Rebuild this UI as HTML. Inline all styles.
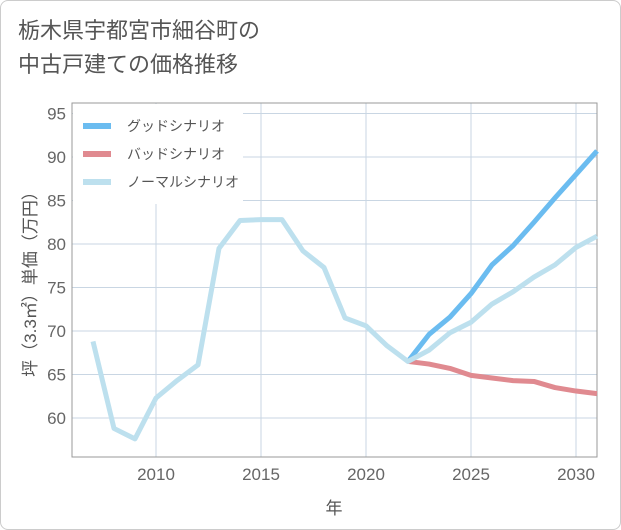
<!DOCTYPE html>
<html><head><meta charset="utf-8"><style>
body{margin:0;background:#fff;font-family:"Liberation Sans","Noto Sans CJK JP",sans-serif;}
#card{position:absolute;left:0;top:0;width:619px;height:528px;border:1px solid #ccc;border-radius:8px;background:#fff;}
#title{position:absolute;left:18px;top:14px;font-size:22px;line-height:34px;color:#555;}
</style></head><body>
<div id="card"></div>
<div id="title">栃木県宇都宮市細谷町の<br>中古戸建ての価格推移</div>
<svg id="chart" width="621" height="530" style="position:absolute;left:0;top:0"></svg>
<script>
const years=[2007,2008,2009,2010,2011,2012,2013,2014,2015,2016,2017,2018,2019,2020,2021,2022,2023,2024,2025,2026,2027,2028,2029,2030,2031];
const normal=[68.8,58.8,57.6,62.3,64.3,66.1,79.5,82.7,82.8,82.8,79.2,77.3,71.5,70.6,68.3,66.5,67.8,69.8,71.0,73.1,74.5,76.2,77.6,79.6,80.9];
const goodYears=[2022,2023,2024,2025,2026,2027,2028,2029,2030,2031];
const good=[66.5,69.6,71.6,74.3,77.6,79.8,82.5,85.3,88.0,90.7];
const bad=[66.5,66.2,65.7,64.9,64.6,64.3,64.2,63.5,63.1,62.8];
const xTicks=[2010,2015,2020,2025,2030];
const yTicks=[60,65,70,75,80,85,90,95];
const L=72,R=597,T=103,B=457;
const x=v=>156+(v-2010)*21;
const y=v=>418+(60-v)*8.7;
const svg=document.getElementById('chart');const NS='http://www.w3.org/2000/svg';
function mk(t,a,p){const e=document.createElementNS(NS,t);for(const k in a)e.setAttribute(k,a[k]);(p||svg).appendChild(e);return e;}
yTicks.forEach(v=>{const l=mk('line',{x1:L,x2:R,y1:y(v),y2:y(v),stroke:'#c9d6e3','stroke-width':1});

const t=mk('text',{x:L-6,y:y(v)+6,'text-anchor':'end','font-size':17,fill:'#666'});t.textContent=v;
});
xTicks.forEach(v=>{const l=mk('line',{x1:x(v),x2:x(v),y1:T,y2:B,stroke:'#c9d6e3','stroke-width':1});

const t=mk('text',{x:x(v),y:B+23,'text-anchor':'middle','font-size':17,fill:'#666'});t.textContent=v;
});
const fr=mk('rect',{x:L,y:T,width:R-L,height:B-T,fill:'none',stroke:'#999','stroke-width':1});

function line(xs,ys,c,n){const p=mk('polyline',{points:xs.map((v,i)=>x(v)+','+y(ys[i])).join(' '),fill:'none',stroke:c,'stroke-width':5,'stroke-linejoin':'round'});
}
line(goodYears,bad,'#e08a90','bad-scenario-line');
line(goodYears,good,'#6bbcf0','good-scenario-line');
line(years,normal,'#bde0ee','normal-scenario-line');
const lg=mk('g',{});
mk('rect',{x:L+1,y:T+1,width:170,height:100,fill:'#fff'},lg);
[['グッドシナリオ','#6bbcf0'],['バッドシナリオ','#e08a90'],['ノーマルシナリオ','#bde0ee']].forEach((d,i)=>{
const yy=T+23+i*28;const g=mk('g',{},lg);
mk('line',{x1:83,x2:111,y1:yy,y2:yy,stroke:d[1],'stroke-width':6},g);
const t=mk('text',{x:127,y:yy+5,'font-size':14,fill:'#555'},g);t.textContent=d[0];});
const yt=mk('text',{transform:'translate(36,280) rotate(-90)','text-anchor':'middle','font-size':17,fill:'#555'});yt.textContent='坪（3.3㎡）単価（万円）';

const xt=mk('text',{x:334,y:514,'text-anchor':'middle','font-size':17,fill:'#555'});xt.textContent='年';

</script>
</body></html>
